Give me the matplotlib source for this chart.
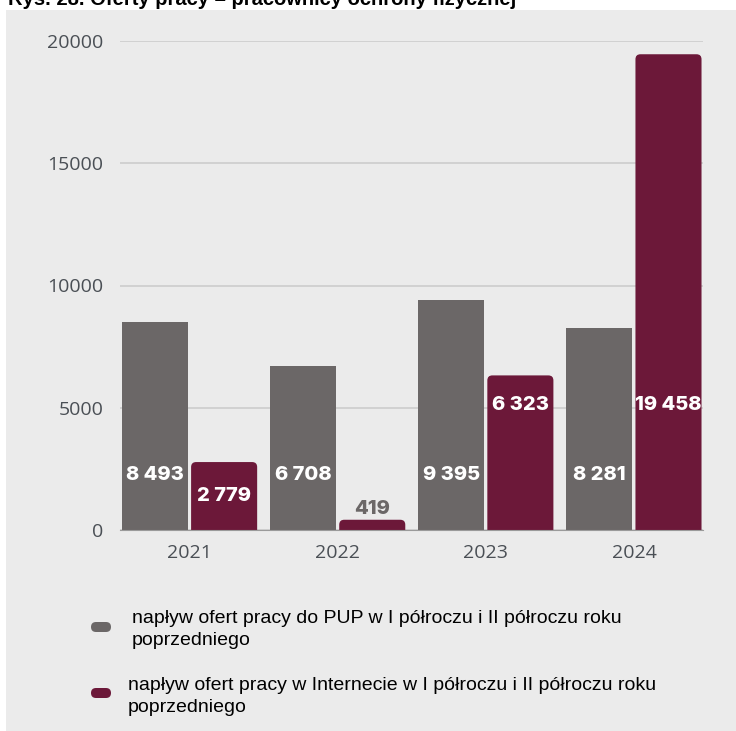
import numpy as np
import matplotlib.pyplot as plt
from matplotlib.patches import FancyBboxPatch

# dane
years = ["2021", "2022", "2023", "2024"]
pup = [8493, 6708, 9395, 8281]
internet = [2779, 419, 6323, 19458]
legend_labels = ["napływ ofert pracy do PUP w I półroczu i II półroczu roku\npoprzedniego",
                 "napływ ofert pracy w Internecie w I półroczu i II półroczu roku\npoprzedniego"]
title = "Rys. 28. Oferty pracy – pracownicy ochrony fizycznej"

GREY = "#6b6767"
MAROON = "#6c1839"
BG = "#ebebeb"
TXT = "#4a4f55"

fig = plt.figure(figsize=(7.36, 7.31), dpi=100)
fig.patch.set_facecolor("white")
# szare tlo pod wykresem
fig.patches.append(FancyBboxPatch((6/736, 0), 1, 1 - 10/731, boxstyle="square,pad=0",
                                  transform=fig.transFigure, fc=BG, ec="none", zorder=-5))
fig.text(8/736, 1 - 5/731, title, fontsize=14.5, fontweight="bold", family="Liberation Sans",
         va="baseline", ha="left", color="black")

ax = fig.add_axes([120/736, 1 - 530/731, 583/736, 489/731])
ax.set_facecolor(BG)
x = np.arange(len(years))
w = 0.446
off = 0.233

ax.bar(x - off, pup, w, color=GREY, zorder=3)
bars = ax.bar(x + off, internet, w, color=MAROON, zorder=3)
# zaokraglone gorne rogi
asp = (5 / 0.02445) / (5 / 148)
for b in bars:
    r = FancyBboxPatch((b.get_x(), -600), b.get_width(), b.get_height() + 600,
                       boxstyle="round,pad=0,rounding_size=%f" % (5 / 148),
                       mutation_aspect=asp, fc=MAROON, ec="none", zorder=3)
    b.remove()
    ax.add_patch(r)

def fmt(v):
    return f"{v:,}".replace(",", " ")

lab_font = dict(fontsize=14.5, fontweight="heavy", family="Inter", ha="center", va="center", zorder=5)
for i, v in enumerate(pup):
    ax.text(x[i] - off, 2250, fmt(v), color="white", **lab_font)
for i, v in enumerate(internet):
    if v < 1000:
        ax.text(x[i] + off, v + 440, fmt(v), color=GREY, **lab_font)
    elif v < 5000:
        ax.text(x[i] + off, v / 2, fmt(v), color="white", **lab_font)
    else:
        ax.text(x[i] + off, 5110, fmt(v), color="white", **lab_font)

ax.set_xlim(-0.47, 3.466)
ax.set_ylim(0, 20000)
ax.set_yticks([0, 5000, 10000, 15000, 20000])
ax.set_xticks(x)
ax.set_xticklabels(years)
ax.tick_params(length=0, labelsize=14, labelcolor=TXT, pad=12)
ax.tick_params(axis="x", pad=10)
for lb in ax.get_xticklabels() + ax.get_yticklabels():
    lb.set_family("Open Sans")
ax.grid(axis="y", color="#cfcfcf", lw=1.3, zorder=0)
for s in ["top", "right", "left"]:
    ax.spines[s].set_visible(False)
ax.spines["bottom"].set_color("#9a9a9a")
ax.spines["bottom"].set_zorder(4)

# legenda
for k, (col, lab) in enumerate(zip([GREY, MAROON], legend_labels)):
    yc = 1 - (627 + 66 * k) / 731
    fig.patches.append(FancyBboxPatch((91/736, yc - 5/731), 20/736, 10/731,
                                      boxstyle="round,pad=0,rounding_size=0.0068",
                                      mutation_aspect=736/731,
                                      transform=fig.transFigure, fc=col, ec="none", zorder=2))
    fig.text((132 - 4 * k)/736, 1 - (610 + 67 * k)/731, lab, fontsize=14, family="Liberation Sans",
             va="top", ha="left", color="black", linespacing=1.4)

fig.savefig("out.png", dpi=100, facecolor=fig.get_facecolor())
